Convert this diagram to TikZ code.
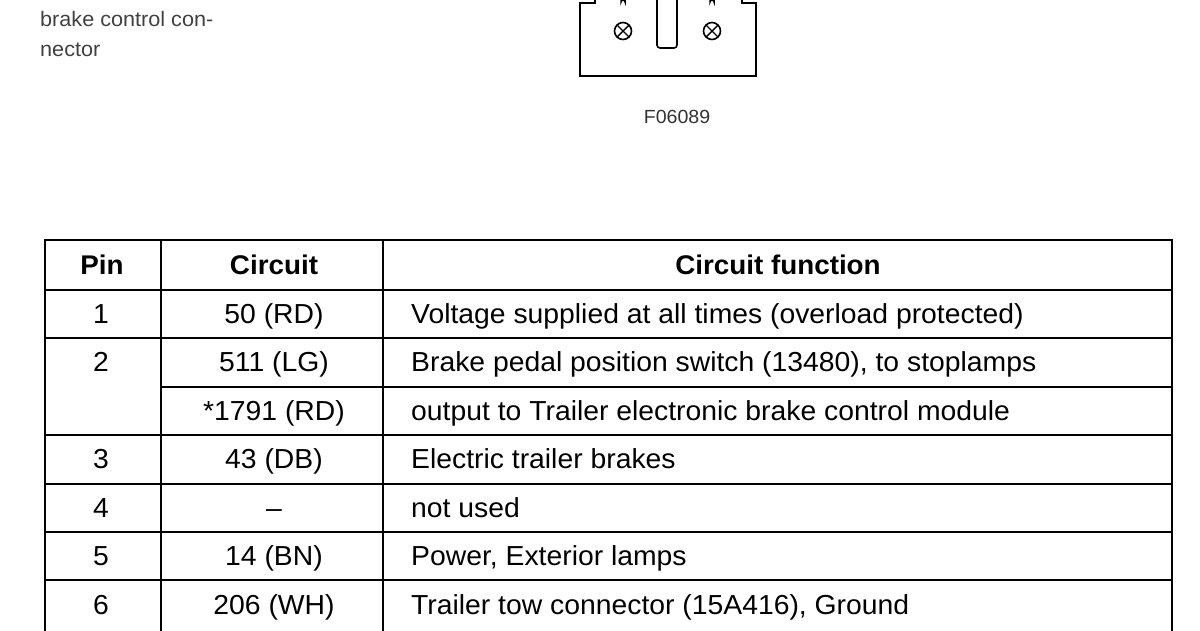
\documentclass[tikz,border=0pt]{standalone}
\usepackage{fontspec}
\setmainfont[FakeStretch=1.03]{Liberation Sans}
\begin{document}
\begin{tikzpicture}[x=1pt,y=-1pt,
  cell/.style={font=\fontsize{27.5}{30}\selectfont,inner sep=0pt,anchor=base},
  head/.style={cell,font=\fontsize{27}{30}\selectfont\bfseries},
  grid/.style={line width=1.8pt},
  small/.style={font=\fontsize{21}{30}\selectfont,inner sep=0pt,align=left,anchor=north west}]
\useasboundingbox (0,0) rectangle (1200,630);
\clip (0,0) rectangle (1200,630);
% caption
\node[small,text=black!75] (cap) at (40,-19) {Trailer electronic\\brake control con-\\nector};
% connector
\draw[line width=2pt] (595,-5) -- (595,3) -- (580,3) -- (580,76) -- (756,76) -- (756,3) -- (742,3) -- (742,-5);
\draw[line width=1.6pt,rounded corners=3pt] (657,-5) -- (657,48) -- (677,48) -- (677,-5);
\foreach \cx/\nm in {623/pa,712/pb}{
  \draw[line width=1.6pt] (\cx,31) circle[radius=8.5];
  \draw[line width=1.4pt] (\cx-6,25) -- (\cx+6,37) (\cx-6,37) -- (\cx+6,25);
  \draw[line width=1.5pt] (\cx-2,-3) -- (\cx-2,2) arc[start angle=180,end angle=360,radius=2] -- (\cx+2,-3);
}
\node[cell,font=\fontsize{19}{20}\selectfont,text=black!80] (fig) at (677,123) {F06089};
% table grid
\draw[grid] (45,240) rectangle (1172,640);
\draw[grid] (161,240) -- (161,640) (383,240) -- (383,640);
\foreach \y in {290,338,435,484,532,580} \draw[grid] (45,\y) -- (1172,\y);
\draw[grid] (161,387) -- (1172,387);
% header
\node[head] (h1) at (102,274) {Pin};
\node[head] (h2) at (274,274) {Circuit};
\node[head] (h3) at (778,274) {Circuit function};
% rows
\foreach \y/\p/\c/\f [count=\i] in {
  323/1/50 (RD)/Voltage supplied at all times (overload protected),
  371/2/511 (LG)/{Brake pedal position switch (13480), to stoplamps},
  468/3/43 (DB)/Electric trailer brakes,
  517/4/–/not used,
  565/5/14 (BN)/{Power, Exterior lamps},
  614/6/206 (WH)/{Trailer tow connector (15A416), Ground}}{
  \node[cell] (p\i) at (101,\y) {\p};
  \node[cell] (c\i) at (274,\y) {\c};
  \node[cell,anchor=base west] (f\i) at (411,\y) {\f};
}
\node[cell] (c7) at (274,420) {*1791 (RD)};
\node[cell,anchor=base west] (f7) at (411,420) {output to Trailer electronic brake control module};
\end{tikzpicture}
\end{document}
